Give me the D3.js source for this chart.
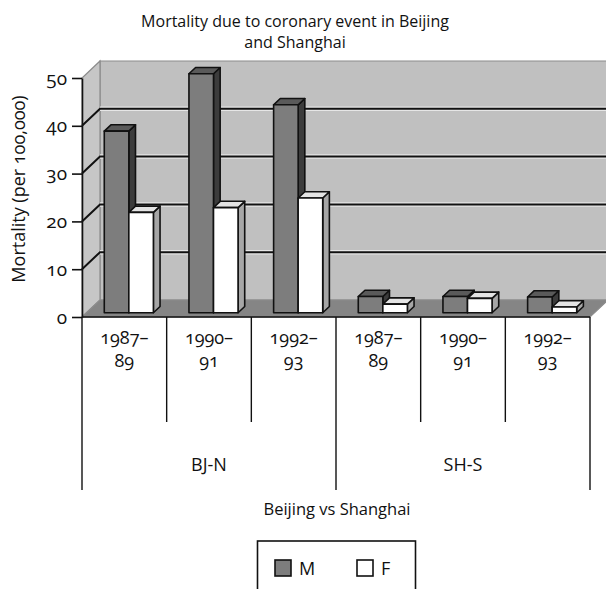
<!DOCTYPE html>
<html>
<head>
<meta charset="utf-8">
<script src="https://cdn.jsdelivr.net/npm/d3@7"></script>
<style>
  html, body { margin: 0; padding: 0; background: #fff; }
  svg { display: block; }
  text { font-family: "Open Sans", "Noto Sans", sans-serif; fill: #111; font-feature-settings: "onum" 1; }
</style>
</head>
<body>
<svg id="chart" width="606" height="589"></svg>
<script>
// Coronary mortality per 100,000, by region and period
const groups = ["BJ-N", "SH-S"];
const periods = ["1987–89", "1990–91", "1992–93"];
const periodLines = [["1987–", "89"], ["1990–", "91"], ["1992–", "93"]];
const series = ["M", "F"];
const maleValues = [38, 50, 43.5, 3.4, 3.4, 3.3];
const femaleValues = [21, 22, 24, 1.8, 3.0, 1.2];
const yTicks = [0, 10, 20, 30, 40, 50];

const title = ["Mortality due to coronary event in Beijing", "and Shanghai"];
const yTitle = "Mortality (per 100,000)";
const xTitle = "Beijing vs Shanghai";

const categories = [];
groups.forEach(g => periods.forEach((p, i) => categories.push({ key: g + " " + p, group: g, lines: periodLines[i] })));
const rows = categories.map((c, i) => ({ key: c.key, M: maleValues[i], F: femaleValues[i] }));

const svg = d3.select("#chart");
const FS = 18;

// front plane scales; depth is drawn as an oblique offset
const plotLeft = 82, plotRight = 590, plotBase = 317, plotTop = 78;
const DX = 18, DY = 17;
const x0 = d3.scaleBand().domain(categories.map(c => c.key)).range([plotLeft, plotRight]);
const x1 = d3.scaleBand().domain(series)
  .range([x0.bandwidth() * 0.21, x0.bandwidth() * 0.79]);
const y = d3.scaleLinear().domain([0, 50]).range([plotBase, plotTop]);
const P = (x, v, z) => [x + z * DX, y(v) - z * DY];
const poly = pts => "M" + pts.map(p => p.join(",")).join("L") + "Z";

const walls = svg.append("g");
// back wall
walls.append("path")
  .attr("d", poly([P(plotLeft, 0, 1), P(plotRight + 40, 0, 1), P(plotRight + 40, 50, 1), P(plotLeft, 50, 1)]))
  .attr("fill", "#c0c0c0").attr("stroke", "#8c8c8c").attr("stroke-width", 1.2);
// side wall
walls.append("path")
  .attr("d", poly([P(plotLeft, 0, 0), P(plotLeft, 0, 1), P(plotLeft, 50, 1), P(plotLeft, 50, 0)]))
  .attr("fill", "#c6c6c6").attr("stroke", "#8c8c8c").attr("stroke-width", 1.2);
// floor
walls.append("path")
  .attr("d", poly([P(plotLeft, 0, 0), P(plotRight, 0, 0), P(plotRight, 0, 1), P(plotLeft, 0, 1)]))
  .attr("fill", "#858585").attr("stroke", "#8c8c8c").attr("stroke-width", 1.2);

// gridlines on back and side walls
const grid = svg.append("g");
yTicks.filter(v => v > 0 && v < 50).forEach(v => {
  grid.append("path")
    .attr("d", "M" + P(plotLeft, v, 1).join(",") + "L" + P(plotRight + 40, v, 1).join(","))
    .attr("stroke", "#e6e6e6").attr("stroke-width", 4.5).attr("fill", "none");
  grid.append("path")
    .attr("d", "M" + P(plotLeft, v, 0).join(",") + "L" + P(plotLeft, v, 1).join(",") + "L" + P(plotRight + 40, v, 1).join(","))
    .attr("stroke", "#111").attr("stroke-width", 2).attr("fill", "none");
});

// columns
const zF = 0.25, zB = 0.62;
const style = {
  M: { front: "#7d7d7d", top: "#5a5a5a", side: "#3c3c3c" },
  F: { front: "#ffffff", top: "#e4e4e4", side: "#a6a6a6" }
};
const bars = svg.append("g");
rows.forEach(r => {
  series.forEach(s => {
    const v = r[s];
    const xa = x0(r.key) + x1(s), xb = xa + x1.bandwidth();
    const c = style[s];
    const g = bars.append("g").attr("stroke", "#111").attr("stroke-width", 1.6).attr("stroke-linejoin", "round");
    g.append("path").attr("fill", c.side)
      .attr("d", poly([P(xb, 0, zF), P(xb, 0, zB), P(xb, v, zB), P(xb, v, zF)]));
    g.append("path").attr("fill", c.top)
      .attr("d", poly([P(xa, v, zF), P(xb, v, zF), P(xb, v, zB), P(xa, v, zB)]));
    g.append("path").attr("fill", c.front)
      .attr("d", poly([P(xa, 0, zF), P(xb, 0, zF), P(xb, v, zF), P(xa, v, zF)]));
  });
});

// value axis
const yAxis = svg.append("g").attr("transform", `translate(${plotLeft},0)`)
  .call(d3.axisLeft(y).tickValues(yTicks).tickSize(10).tickPadding(5).tickSizeOuter(0));
yAxis.select(".domain").attr("stroke", "#111").attr("stroke-width", 1.6);
yAxis.selectAll(".tick line").attr("stroke", "#111").attr("stroke-width", 1.6);
yAxis.selectAll(".tick text").attr("font-size", FS + 1).attr("fill", "#111")
  .style("font-family", "'Open Sans', sans-serif");

// category axis with grouped dividers
const xAxis = svg.append("g");
xAxis.append("line").attr("x1", plotLeft).attr("x2", plotRight).attr("y1", plotBase).attr("y2", plotBase)
  .attr("stroke", "#111").attr("stroke-width", 1.6);
categories.forEach((c, i) => {
  const xs = x0(c.key);
  const isGroupEdge = i % periods.length === 0;
  xAxis.append("line").attr("x1", xs).attr("x2", xs).attr("y1", plotBase)
    .attr("y2", isGroupEdge ? 490 : 422).attr("stroke", "#111").attr("stroke-width", 1.4);
  const cx = xs + x0.bandwidth() / 2;
  c.lines.forEach((t, k) => {
    xAxis.append("text").attr("x", cx).attr("y", 344 + k * 23)
      .attr("text-anchor", "middle").attr("font-size", FS).text(t);
  });
});
xAxis.append("line").attr("x1", plotRight).attr("x2", plotRight).attr("y1", plotBase).attr("y2", 490)
  .attr("stroke", "#111").attr("stroke-width", 1.4);
groups.forEach((g, gi) => {
  const a = x0(categories[gi * periods.length].key);
  const b = x0(categories[gi * periods.length + periods.length - 1].key) + x0.bandwidth();
  xAxis.append("text").attr("x", (a + b) / 2).attr("y", 471)
    .attr("text-anchor", "middle").attr("font-size", FS).text(g);
});

// titles
svg.append("g").selectAll("text").data(title).join("text")
  .attr("x", 295).attr("y", (d, i) => 27 + i * 21)
  .attr("text-anchor", "middle").attr("font-size", 16).text(d => d);
svg.append("text").attr("transform", "translate(25,189) rotate(-90)")
  .attr("text-anchor", "middle").attr("font-size", FS).text(yTitle);
svg.append("text").attr("x", 337).attr("y", 515)
  .attr("text-anchor", "middle").attr("font-size", 16.5).text(xTitle);

// legend
const legend = svg.append("g");
legend.append("rect").attr("x", 257.5).attr("y", 541).attr("width", 158).attr("height", 70)
  .attr("fill", "#fff").attr("stroke", "#111").attr("stroke-width", 1.6);
const legX = d3.scalePoint().domain(series).range([275, 357]);
series.forEach(s => {
  legend.append("rect").attr("x", legX(s)).attr("y", 560).attr("width", 16).attr("height", 16)
    .attr("fill", style[s].front).attr("stroke", "#111").attr("stroke-width", 1.6);
  legend.append("text").attr("x", legX(s) + 24).attr("y", 575).attr("font-size", FS).text(s);
});
</script>
</body>
</html>
